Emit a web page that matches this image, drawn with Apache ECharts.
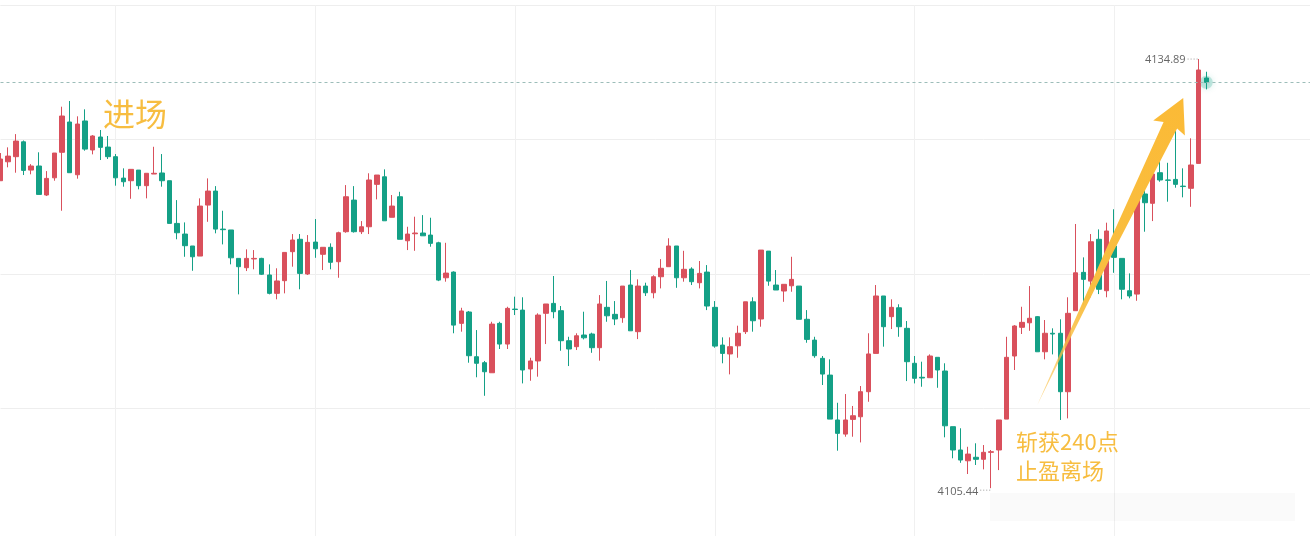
<!DOCTYPE html>
<html lang="zh">
<head>
    <meta charset="UTF-8">
    <title>K线 进场 / 止盈离场</title>
    <script src="https://cdn.jsdelivr.net/npm/echarts@6/dist/echarts.min.js"></script>
    <style>
        html, body {
            margin: 0;
            padding: 0;
            background: #ffffff;
        }
        #chart {
            width: 1310px;
            height: 536px;
        }
    </style>
</head>
<body>
<div id="chart"></div>

<script>
    // OHLC, one entry per candle (158 candles)
    const openPrices = [
        4126.54, 4127.84, 4128.19, 4129.21, 4127.27, 4127.55, 4125.56, 4126.74, 4128.49, 4130.57,
        4126.95, 4130.64, 4128.65, 4129.54, 4128.85, 4128.19, 4126.72, 4126.54, 4127.27, 4126.20,
        4127.00, 4127.07, 4126.54, 4123.61, 4122.88, 4122.06, 4121.37, 4124.87, 4125.83, 4123.22,
        4123.16, 4121.21, 4120.57, 4121.17, 4121.21, 4120.07, 4118.81, 4119.68, 4121.67, 4122.52,
        4120.14, 4122.33, 4121.49, 4121.97, 4120.98, 4123.04, 4125.21, 4123.04, 4123.38, 4126.29,
        4126.81, 4124.03, 4125.44, 4122.42, 4122.90, 4122.95, 4122.81, 4122.28, 4119.88, 4120.27,
        4116.75, 4117.53, 4114.46, 4114.05, 4113.36, 4116.75, 4115.33, 4117.73, 4117.66, 4113.62,
        4114.17, 4117.44, 4118.12, 4117.62, 4115.56, 4115.15, 4115.95, 4116.02, 4115.08, 4117.85,
        4117.37, 4117.14, 4119.38, 4116.18, 4119.31, 4118.85, 4119.95, 4120.64, 4122.06, 4119.88,
        4120.48, 4119.54, 4120.27, 4117.85, 4115.26, 4114.65, 4115.21, 4116.18, 4118.23, 4117.05,
        4121.71, 4119.38, 4118.97, 4119.33, 4119.31, 4117.03, 4115.60, 4114.35, 4113.20, 4110.12,
        4109.15, 4110.16, 4110.34, 4112.06, 4114.69, 4118.63, 4117.21, 4117.82, 4116.41, 4114.01,
        4113.05, 4113.02, 4114.42, 4113.48, 4109.66, 4108.06, 4107.32, 4107.56, 4107.42, 4107.90,
        4108.06, 4110.18, 4114.51, 4116.48, 4116.79, 4117.21, 4114.80, 4116.07, 4116.07, 4112.06,
        4117.62, 4120.25, 4119.65, 4122.52, 4118.99, 4122.06, 4121.21, 4118.99, 4118.76, 4125.63,
        4124.99, 4127.09, 4126.59, 4126.63, 4126.17, 4126.02, 4127.73, 4133.59
    ];
    const closePrices = [
        4128.03, 4128.23, 4129.26, 4127.25, 4127.55, 4125.60, 4126.70, 4128.44, 4130.98, 4127.09,
        4130.43, 4128.71, 4129.61, 4128.83, 4128.19, 4126.74, 4126.47, 4127.32, 4126.20, 4127.05,
        4127.05, 4126.54, 4123.61, 4122.97, 4122.08, 4121.32, 4124.80, 4125.83, 4123.22, 4123.18,
        4121.25, 4120.64, 4121.21, 4121.21, 4120.12, 4118.81, 4119.66, 4121.62, 4122.47, 4120.18,
        4122.31, 4121.87, 4121.97, 4120.94, 4122.97, 4125.44, 4123.04, 4123.38, 4126.59, 4126.93,
        4123.79, 4124.80, 4122.52, 4122.88, 4122.95, 4122.76, 4122.24, 4119.72, 4120.20, 4116.63,
        4117.60, 4114.53, 4114.01, 4113.43, 4116.70, 4115.33, 4117.78, 4117.70, 4113.55, 4114.17,
        4117.32, 4118.08, 4117.55, 4115.56, 4114.99, 4115.90, 4115.76, 4115.08, 4118.08, 4117.27,
        4117.05, 4119.31, 4116.24, 4119.31, 4118.85, 4119.95, 4120.53, 4122.06, 4119.88, 4120.46,
        4119.61, 4120.18, 4117.94, 4115.19, 4114.69, 4115.15, 4116.07, 4118.23, 4116.93, 4121.78,
        4119.65, 4119.04, 4119.43, 4119.77, 4117.03, 4115.65, 4114.53, 4113.27, 4110.18, 4109.20,
        4110.12, 4110.41, 4112.06, 4114.65, 4118.63, 4116.52, 4117.85, 4116.52, 4114.12, 4112.98,
        4113.00, 4114.51, 4113.55, 4109.72, 4108.06, 4107.37, 4107.78, 4107.42, 4107.90, 4107.94,
        4110.12, 4114.42, 4116.57, 4116.82, 4117.10, 4114.80, 4116.07, 4116.02, 4112.06, 4117.44,
        4120.22, 4119.77, 4122.35, 4119.09, 4123.09, 4121.28, 4119.09, 4118.63, 4125.26, 4125.03,
        4127.00, 4126.59, 4126.57, 4126.29, 4126.14, 4127.62, 4134.14, 4133.29
    ];
    const lowPrices = [
        4126.54, 4127.46, 4127.09, 4126.93, 4126.98, 4125.60, 4125.49, 4126.54, 4124.48, 4127.09,
        4126.68, 4128.60, 4128.35, 4127.96, 4128.03, 4126.20, 4126.13, 4125.30, 4125.95, 4125.33,
        4127.00, 4126.13, 4123.61, 4122.52, 4121.32, 4120.36, 4121.37, 4123.72, 4122.93, 4122.17,
        4120.80, 4118.74, 4120.34, 4120.46, 4120.07, 4118.74, 4118.40, 4118.81, 4120.64, 4119.09,
        4120.07, 4121.25, 4120.41, 4120.46, 4119.88, 4122.97, 4122.98, 4122.88, 4122.88, 4125.26,
        4123.79, 4124.03, 4122.52, 4121.78, 4121.73, 4122.76, 4122.01, 4119.65, 4119.61, 4116.07,
        4116.18, 4114.05, 4113.05, 4111.78, 4113.36, 4114.99, 4114.99, 4117.32, 4112.63, 4112.81,
        4113.09, 4115.33, 4117.10, 4114.87, 4113.82, 4114.92, 4115.65, 4114.73, 4114.19, 4116.86,
        4116.63, 4116.79, 4116.24, 4115.67, 4118.63, 4118.47, 4119.15, 4120.64, 4119.19, 4119.61,
        4119.38, 4119.15, 4117.66, 4115.08, 4114.01, 4113.25, 4114.39, 4116.02, 4116.18, 4116.52,
        4119.33, 4119.04, 4118.23, 4118.92, 4117.03, 4115.42, 4114.39, 4112.52, 4110.18, 4108.01,
        4108.97, 4108.97, 4108.58, 4111.37, 4114.69, 4115.15, 4116.36, 4115.83, 4112.79, 4112.63,
        4112.40, 4113.02, 4112.33, 4108.93, 4107.49, 4107.18, 4106.41, 4107.03, 4106.73, 4105.44,
        4106.68, 4110.18, 4113.55, 4116.02, 4116.24, 4114.80, 4114.28, 4114.62, 4110.12, 4110.23,
        4117.62, 4118.01, 4118.54, 4118.76, 4118.54, 4120.22, 4118.40, 4118.47, 4118.30, 4123.04,
        4123.77, 4126.47, 4125.10, 4126.06, 4125.40, 4124.75, 4127.73, 4132.81
    ];
    const highPrices = [
        4128.44, 4128.83, 4129.74, 4129.30, 4127.68, 4128.49, 4127.20, 4128.44, 4131.62, 4132.01,
        4130.96, 4131.44, 4129.67, 4130.02, 4129.61, 4128.37, 4127.39, 4127.32, 4127.27, 4127.05,
        4128.87, 4128.37, 4126.54, 4125.21, 4123.68, 4122.06, 4125.33, 4126.70, 4126.17, 4124.48,
        4123.16, 4121.21, 4121.83, 4121.78, 4121.25, 4120.80, 4120.53, 4121.62, 4122.88, 4122.88,
        4122.81, 4123.91, 4121.97, 4122.24, 4123.04, 4126.24, 4126.17, 4123.77, 4127.05, 4126.93,
        4127.32, 4125.56, 4125.78, 4123.38, 4124.07, 4124.18, 4124.00, 4122.35, 4122.28, 4120.32,
        4117.82, 4117.60, 4116.29, 4114.17, 4116.86, 4116.86, 4117.89, 4118.58, 4118.54, 4114.39,
        4117.44, 4118.08, 4120.00, 4117.94, 4115.83, 4116.07, 4117.55, 4116.11, 4118.69, 4119.66,
        4118.28, 4119.31, 4120.41, 4119.77, 4119.54, 4120.05, 4121.16, 4122.59, 4122.06, 4121.73,
        4120.60, 4121.03, 4120.75, 4118.28, 4115.79, 4115.79, 4116.59, 4118.23, 4118.54, 4121.78,
        4121.71, 4120.41, 4119.43, 4121.32, 4119.31, 4117.66, 4115.83, 4114.51, 4114.28, 4111.30,
        4111.90, 4111.08, 4112.45, 4116.07, 4119.38, 4118.63, 4118.40, 4118.06, 4116.91, 4114.51,
        4114.12, 4114.62, 4114.42, 4114.01, 4109.66, 4109.55, 4108.28, 4108.52, 4108.40, 4108.06,
        4110.12, 4115.83, 4116.63, 4117.89, 4119.31, 4117.25, 4116.98, 4116.41, 4117.03, 4118.54,
        4123.57, 4121.28, 4122.88, 4123.20, 4123.66, 4124.58, 4121.21, 4120.18, 4125.26, 4126.13,
        4127.00, 4128.08, 4127.77, 4130.07, 4127.39, 4129.45, 4134.89, 4134.02
    ];

    // the time axis has no labels in the picture; 14 empty slots after the last candle
    const slotCount = 172;
    const timeGridSlots = [15, 41, 67, 93, 119, 145];

    // hidden price axis, only its grid lines show
    const priceAxisMin = 4101.69;
    const priceAxisMax = 4138.60;

    // annotation anchors in chart coordinates: [slot, price]
    const arrowFrom = [134.96, 4111.15];
    const arrowTo = [153.58, 4132.21];

    const upColor = '#d9505c';
    const downColor = '#14a086';
    const noteColor = '#f7bd40';

    const slots = [];
    for (let i = 0; i < slotCount; i++) slots.push(String(i));

    const candles = openPrices.map((o, i) => [o, closePrices[i], lowPrices[i], highPrices[i]]);
    const lastIndex = closePrices.length - 1;
    const lastClose = closePrices[lastIndex];

    const chart = echarts.init(document.getElementById('chart'));

    chart.setOption({
        animation: false,
        backgroundColor: '#ffffff',
        grid: {
            left: 0.5,
            right: -3.8,
            top: 5,
            height: 537.8,
            outerBoundsMode: 'none'
        },
        xAxis: {
            type: 'category',
            data: slots,
            boundaryGap: false,
            axisLine: { show: false },
            axisTick: { show: false },
            axisLabel: { show: false },
            splitLine: {
                show: true,
                interval: (index) => timeGridSlots.includes(index),
                lineStyle: { color: '#f0f0f0', width: 1 }
            }
        },
        yAxis: {
            type: 'value',
            min: priceAxisMin,
            max: priceAxisMax,
            interval: (priceAxisMax - priceAxisMin) / 4,
            axisLine: { show: false },
            axisTick: { show: false },
            axisLabel: { show: false },
            splitLine: {
                lineStyle: { color: '#eeeeee', width: 1 }
            }
        },
        series: [
            {
                type: 'candlestick',
                data: candles,
                barWidth: 5,
                clip: false,
                itemStyle: {
                    color: upColor,
                    color0: downColor,
                    borderColor: upColor,
                    borderColor0: downColor,
                    borderWidth: 1
                },
                markLine: {
                    silent: true,
                    symbol: ['none', 'none'],
                    label: { show: false },
                    lineStyle: { color: '#9cbdb9', type: [3, 3], width: 1 },
                    data: [{ yAxis: lastClose }]
                }
            },
            {
                // glow around the live candle
                type: 'scatter',
                data: [[lastIndex, lastClose]],
                symbolSize: 13,
                z: 1,
                itemStyle: {
                    color: 'rgba(20, 160, 134, 0.28)',
                    shadowBlur: 6,
                    shadowColor: 'rgba(20, 160, 134, 0.7)'
                }
            }
        ]
    });

    // annotations: arrow, notes and high/low labels
    const toPx = (pt) => chart.convertToPixel({ seriesIndex: 0 }, pt);

    const tail = toPx(arrowFrom);
    const tip = toPx(arrowTo);
    const dx = tip[0] - tail[0];
    const dy = tip[1] - tail[1];
    const len = Math.sqrt(dx * dx + dy * dy);
    const ux = dx / len, uy = dy / len;
    const nx = -uy, ny = ux;
    const along = (t, s) => [tail[0] + ux * t + nx * s, tail[1] + uy * t + ny * s];

    const arrowPoints = [
        along(0, 0),
        along(len * 0.5, 2.8),
        along(len - 30, 7.5),
        along(len - 33, 17.5),
        along(len, 0),
        along(len - 33, -17.5),
        along(len - 30, -7.5),
        along(len * 0.5, -4.8)
    ];

    let hiIdx = 0, loIdx = 0;
    highPrices.forEach((h, i) => { if (h > highPrices[hiIdx]) hiIdx = i; });
    lowPrices.forEach((l, i) => { if (l < lowPrices[loIdx]) loIdx = i; });
    const hiPx = toPx([hiIdx, highPrices[hiIdx]]);
    const loPx = toPx([loIdx, lowPrices[loIdx]]);

    const cjk = '"Noto Sans CJK SC", "Noto Sans", sans-serif';
    const latin = '"Open Sans", "Noto Sans", sans-serif';

    chart.setOption({
        graphic: [
            {
                type: 'rect',
                silent: true,
                z: 0,
                shape: { x: 990, y: 493, width: 305, height: 28 },
                style: {
                    fill: 'rgba(0, 0, 0, 0.018)',
                    shadowBlur: 12,
                    shadowColor: 'rgba(0, 0, 0, 0.03)'
                }
            },
            {
                type: 'polygon',
                silent: true,
                z: 50,
                shape: { points: arrowPoints },
                style: {
                    fill: {
                        type: 'linear',
                        global: true,
                        x: tail[0], y: tail[1], x2: tip[0], y2: tip[1],
                        colorStops: [
                            { offset: 0, color: 'rgba(250, 192, 70, 0.55)' },
                            { offset: 0.35, color: '#f9bf42' },
                            { offset: 1, color: '#fbba36' }
                        ]
                    }
                }
            },
            {
                type: 'text',
                silent: true,
                z: 50,
                x: 103,
                y: 114,
                style: {
                    text: '进场',
                    fill: noteColor,
                    font: '32px ' + cjk,
                    align: 'left',
                    verticalAlign: 'middle'
                }
            },
            {
                type: 'text',
                silent: true,
                z: 50,
                x: 1016,
                y: 442,
                style: {
                    text: '斩获240点',
                    fill: noteColor,
                    font: '22px ' + cjk,
                    align: 'left',
                    verticalAlign: 'middle'
                }
            },
            {
                type: 'text',
                silent: true,
                z: 50,
                x: 1016,
                y: 471,
                style: {
                    text: '止盈离场',
                    fill: noteColor,
                    font: '22px ' + cjk,
                    align: 'left',
                    verticalAlign: 'middle'
                }
            },
            {
                type: 'text',
                silent: true,
                z: 50,
                x: hiPx[0] - 13,
                y: hiPx[1] + 1,
                style: {
                    text: highPrices[hiIdx].toFixed(2),
                    fill: '#666666',
                    font: '11px ' + latin,
                    align: 'right',
                    verticalAlign: 'middle'
                }
            },
            {
                type: 'line',
                silent: true,
                z: 50,
                shape: { x1: hiPx[0] - 11, y1: hiPx[1], x2: hiPx[0], y2: hiPx[1] },
                style: { stroke: '#999999', lineWidth: 1, lineDash: [1, 2] }
            },
            {
                type: 'text',
                silent: true,
                z: 50,
                x: loPx[0] - 13,
                y: loPx[1] + 4,
                style: {
                    text: lowPrices[loIdx].toFixed(2),
                    fill: '#666666',
                    font: '11px ' + latin,
                    align: 'right',
                    verticalAlign: 'middle'
                }
            },
            {
                type: 'line',
                silent: true,
                z: 50,
                shape: { x1: loPx[0] - 11, y1: loPx[1] + 2, x2: loPx[0], y2: loPx[1] + 2 },
                style: { stroke: '#999999', lineWidth: 1, lineDash: [1, 2] }
            }
        ]
    });
</script>
</body>
</html>
